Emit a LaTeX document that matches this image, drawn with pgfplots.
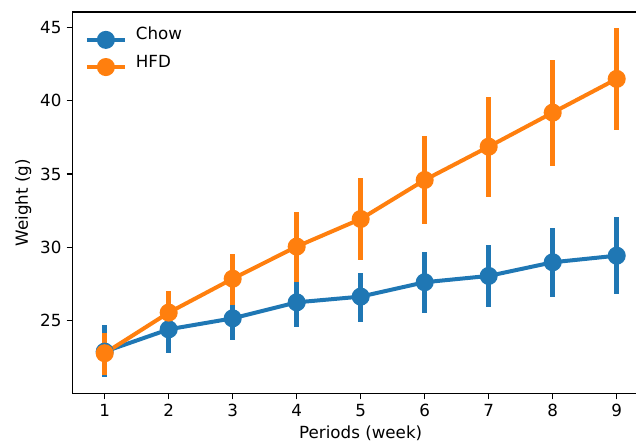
\documentclass[border=0pt]{standalone}
\usepackage{pgfplots}
\usepackage{pgfplotstable}
\pgfplotsset{compat=1.18}
\usepackage{fontspec}
\setmainfont{DejaVu Sans}
\definecolor{cblue}{HTML}{1F77B4}
\definecolor{corange}{HTML}{FF7F0E}

\pgfplotstableread{
x y ep em
1 22.89 1.81 1.71
2 24.41 1.60 1.63
3 25.16 1.45 1.48
4 26.25 1.65 1.66
5 26.64 1.63 1.71
6 27.62 2.08 2.12
7 28.05 2.11 2.14
8 28.98 2.32 2.34
9 29.43 2.62 2.63
}\chow

\pgfplotstableread{
x y ep em
1 22.78 1.36 1.48
2 25.55 1.50 1.52
3 27.86 1.69 1.79
4 30.05 2.34 2.39
5 31.93 2.78 2.79
6 34.59 3.00 3.02
7 36.86 3.41 3.45
8 39.18 3.59 3.61
9 41.48 3.45 3.48
}\hfd

\begin{document}
\fontsize{16.7}{20}\selectfont
\begin{tikzpicture}[x=1pt,y=1pt]
\begin{axis}[
  at={(0,0)}, anchor=south west,
  scale only axis, width=576pt, height=381.3pt,
  xmin=0.5, xmax=9.5, ymin=20.05, ymax=46.04,
  xtick={1,2,3,4,5,6,7,8,9}, ytick={25,30,35,40,45},
  tick align=outside, tick pos=left,
  major tick length=6pt,
  every tick/.style={black, line width=1.1pt},
  axis line style={line width=1.1pt},
  /pgf/number format/assume math mode=true,
  tick label style={font=\fontsize{16.7}{20}\selectfont, inner sep=0pt},
  xticklabel style={anchor=north, yshift=-5pt},
  yticklabel style={anchor=east, xshift=-5pt},
  xlabel={Periods (week)}, ylabel={Weight (g)},
  xlabel style={at={([yshift=-45.4pt]axis description cs:0.5,0)}, anchor=base, inner sep=0pt},
  ylabel style={at={([xshift=-44.7pt]axis description cs:0,0.5)}, anchor=base, inner sep=0pt},
  legend style={draw=none, fill=none, at={(axis description cs:0,1)}, anchor=north west,
    xshift=12pt, yshift=-15pt, inner sep=0pt, row sep=8pt,
    nodes={inner sep=0pt, anchor=base west},
    /tikz/every odd column/.append style={column sep=9pt},
    font=\fontsize{16.7}{20}\selectfont},
  legend cell align=left,
  legend image code/.code={\draw[mark repeat=2, mark phase=2, #1] plot coordinates {(0pt,0pt) (19pt,0pt) (38pt,0pt)};},
  clip=false,
]
\addplot[cblue, line width=4pt, mark=*, mark size=7pt, mark options={draw=none, fill=cblue},
  error bars/.cd, y dir=both, y explicit, error mark=none,
  error bar style={line width=5pt, cblue}]
  table[x=x, y=y, y error plus=ep, y error minus=em]{\chow};
\addlegendentry{Chow}
\addplot[corange, line width=4pt, mark=*, mark size=7pt, mark options={draw=none, fill=corange},
  error bars/.cd, y dir=both, y explicit, error mark=none,
  error bar style={line width=5pt, corange}]
  table[x=x, y=y, y error plus=ep, y error minus=em]{\hfd};
\addlegendentry{HFD}
\draw[line width=1.1pt] (rel axis cs:0,1) -- (rel axis cs:1,1);
\end{axis}
\pgfresetboundingbox
\path[use as bounding box] (-72.7,-49.7) rectangle (563.3,393.3);
\end{tikzpicture}
\end{document}
